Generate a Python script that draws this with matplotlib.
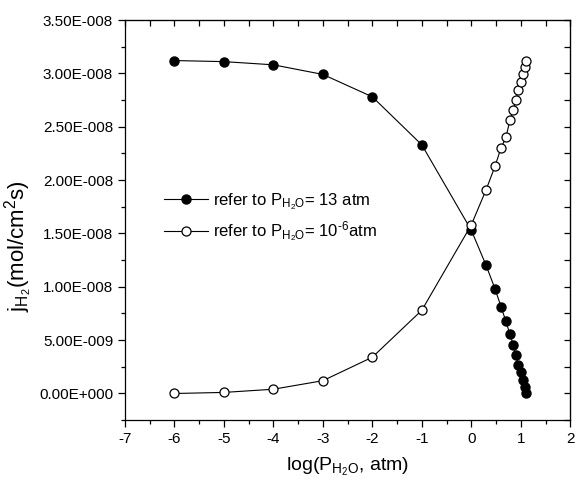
import numpy as np
import matplotlib
matplotlib.use("Agg")
import matplotlib.pyplot as plt
from matplotlib.ticker import MultipleLocator, FuncFormatter

plt.rcParams['font.family'] = ['Liberation Sans', 'DejaVu Sans']
plt.rcParams['mathtext.fontset'] = 'custom'
plt.rcParams['mathtext.rm'] = 'Liberation Sans'
plt.rcParams['mathtext.it'] = 'Liberation Sans'
plt.rcParams['axes.unicode_minus'] = False

# log(P_H2O, atm)
log_p = [-6, -5, -4, -3, -2, -1, 0, 0.30, 0.48, 0.60, 0.70, 0.78,
         0.85, 0.90, 0.95, 1.00, 1.04, 1.08, 1.11]
# flux referred to P_H2O = 13 atm (mol/cm2 s, x1e-8)
j_13atm = [3.12, 3.11, 3.08, 2.99, 2.78, 2.33, 1.53, 1.20, 0.98, 0.815,
           0.675, 0.556, 0.453, 0.36, 0.27, 0.20, 0.13, 0.06, 0.0]
# flux referred to P_H2O = 1e-6 atm (mol/cm2 s, x1e-8)
j_1e6atm = [0.0, 0.01, 0.04, 0.12, 0.34, 0.78, 1.58, 1.91, 2.13, 2.30,
            2.40, 2.56, 2.655, 2.75, 2.84, 2.92, 2.99, 3.055, 3.12]

labels = [r'refer to P$_{\mathregular{H_2O}}$= 13 atm',
          'refer to P$_{\\mathregular{H_2O}}$= 10$^{\\mathregular{\u20106}}$atm']

j1 = np.array(j_13atm) * 1e-8
j2 = np.array(j_1e6atm) * 1e-8


def sci_fmt(v, pos):
    if v == 0:
        return '0.00E+000'
    e = int(np.floor(np.log10(abs(v))))
    m = v / 10 ** e
    if round(abs(m), 2) >= 10:
        m /= 10
        e += 1
    return '%.2fE%s%03d' % (m, '-' if e < 0 else '+', abs(e))


fig = plt.figure(figsize=(5.76, 4.88), dpi=100)
ax = fig.add_axes([0.217, 0.139, 0.773, 0.820])

ax.plot(log_p, j1, '-o', color='black', lw=0.8, ms=6.5,
        mfc='black', mec='black', label=labels[0])
ax.plot(log_p, j2, '-o', color='black', lw=0.8, ms=6.5,
        mfc='white', mec='black', mew=0.9, label=labels[1])

ax.set_xlim(-7, 2)
ax.set_ylim(-2.5e-9, 3.5e-8)
ax.xaxis.set_major_locator(MultipleLocator(1))
ax.xaxis.set_minor_locator(MultipleLocator(0.5))
ax.yaxis.set_major_locator(MultipleLocator(5e-9))
ax.yaxis.set_minor_locator(MultipleLocator(2.5e-9))
ax.yaxis.set_major_formatter(FuncFormatter(sci_fmt))
ax.tick_params(which='both', direction='out', labelsize=11, width=0.9)
ax.tick_params(which='major', length=5)
ax.tick_params(which='minor', length=3)
for s in ax.spines.values():
    s.set_linewidth(0.9)

# inward ticks on top and right
top = ax.secondary_xaxis('top')
top.xaxis.set_major_locator(MultipleLocator(1))
top.xaxis.set_minor_locator(MultipleLocator(0.5))
top.tick_params(which='both', direction='in', length=4, width=0.9, labeltop=False)
right = ax.secondary_yaxis('right')
right.yaxis.set_major_locator(MultipleLocator(5e-9))
right.yaxis.set_minor_locator(MultipleLocator(2.5e-9))
right.tick_params(which='both', direction='in', length=4, width=0.9, labelright=False)

ax.set_xlabel(r'log(P$_{\mathregular{H_2O}}$, atm)', fontsize=14, labelpad=7)
ax.set_ylabel(r'j$_{\mathregular{H_2}}$(mol/cm$^{\mathregular{2}}$s)', fontsize=16)
ax.yaxis.set_label_coords(-0.201, 0.435)

ax.legend(loc='upper left', bbox_to_anchor=(0.055, 0.61), frameon=False,
          fontsize=12, handlelength=2.6, handletextpad=0.3, labelspacing=0.5)

fig.savefig('out.png', dpi=100)
